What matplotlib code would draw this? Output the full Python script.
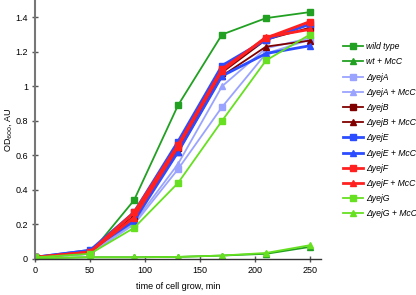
import matplotlib
matplotlib.use("Agg")
import matplotlib.pyplot as plt

# time points, min
time_min = [0, 50, 90, 130, 170, 210, 250]

# OD600 values per strain
wild_type = [0.01, 0.03, 0.34, 0.89, 1.30, 1.395, 1.43]
wt_mcc = [0.005, 0.01, 0.01, 0.012, 0.02, 0.03, 0.07]
yejA = [0.01, 0.03, 0.20, 0.52, 0.88, 1.19, 1.27]
yejA_mcc = [0.01, 0.03, 0.21, 0.55, 1.00, 1.22, 1.28]
yejB = [0.01, 0.04, 0.25, 0.64, 1.08, 1.27, 1.34]
yejB_mcc = [0.01, 0.04, 0.24, 0.62, 1.06, 1.23, 1.265]
yejE = [0.01, 0.05, 0.27, 0.68, 1.12, 1.27, 1.36]
yejE_mcc = [0.01, 0.05, 0.22, 0.62, 1.06, 1.19, 1.235]
yejF = [0.01, 0.04, 0.27, 0.66, 1.10, 1.28, 1.375]
yejF_mcc = [0.01, 0.04, 0.24, 0.65, 1.09, 1.285, 1.33]
yejG = [0.01, 0.03, 0.18, 0.44, 0.80, 1.15, 1.30]
yejG_mcc = [0.005, 0.01, 0.01, 0.012, 0.02, 0.035, 0.08]

series = [
    ("wild type", wild_type, "#22a022", "s"),
    ("wt + McC", wt_mcc, "#22a022", "^"),
    ("\u0394yejA", yejA, "#9aa4ff", "s"),
    ("\u0394yejA + McC", yejA_mcc, "#9aa4ff", "^"),
    ("\u0394yejB", yejB, "#800000", "s"),
    ("\u0394yejB + McC", yejB_mcc, "#800000", "^"),
    ("\u0394yejE", yejE, "#2c4cff", "s"),
    ("\u0394yejE + McC", yejE_mcc, "#2c4cff", "^"),
    ("\u0394yejF", yejF, "#ff2020", "s"),
    ("\u0394yejF + McC", yejF_mcc, "#ff2020", "^"),
    ("\u0394yejG", yejG, "#66e020", "s"),
    ("\u0394yejG + McC", yejG_mcc, "#66e020", "^"),
]

plt.rcParams["font.family"] = ["Liberation Sans", "DejaVu Sans"]

fig = plt.figure(figsize=(4.16, 2.95), dpi=100)
ax = fig.add_axes([35 / 416, 36 / 295, 286 / 416, 259 / 295])

for label, vals, color, marker in series:
    lw = 2.0 if color in ("#ff2020", "#2c4cff") else 1.3
    ax.plot(time_min, vals, color=color, marker=marker, markersize=5,
            linewidth=lw, label=label)

ax.set_xlim(0, 260)
ax.set_ylim(0, 1.5)
ax.set_xticks([0, 50, 100, 150, 200, 250])
ax.set_yticks([0, 0.2, 0.4, 0.6, 0.8, 1.0, 1.2, 1.4])
ax.set_yticklabels(["0", "0.2", "0.4", "0.6", "0.8", "1", "1.2", "1.4"])
ax.tick_params(labelsize=6.5, direction="inout", length=4, color="#555555",
               width=1, pad=3)

for side in ("top", "right"):
    ax.spines[side].set_visible(False)
ax.spines["left"].set_color("#777777")
ax.spines["left"].set_linewidth(1.5)
ax.spines["bottom"].set_color("#333333")
ax.spines["bottom"].set_linewidth(1)

ax.set_xlabel("time of cell grow, min", fontsize=6.5, labelpad=5)
ax.set_ylabel("OD$_{600}$, AU", fontsize=6.5, labelpad=1)

leg = ax.legend(loc="upper left", bbox_to_anchor=(305 / 286, 0.85),
                frameon=False, fontsize=6.2, handlelength=2.3, handletextpad=0.35,
                labelspacing=0.72, borderaxespad=0)
for t in leg.get_texts():
    t.set_fontstyle("italic")

fig.savefig("out.png", dpi=100)
